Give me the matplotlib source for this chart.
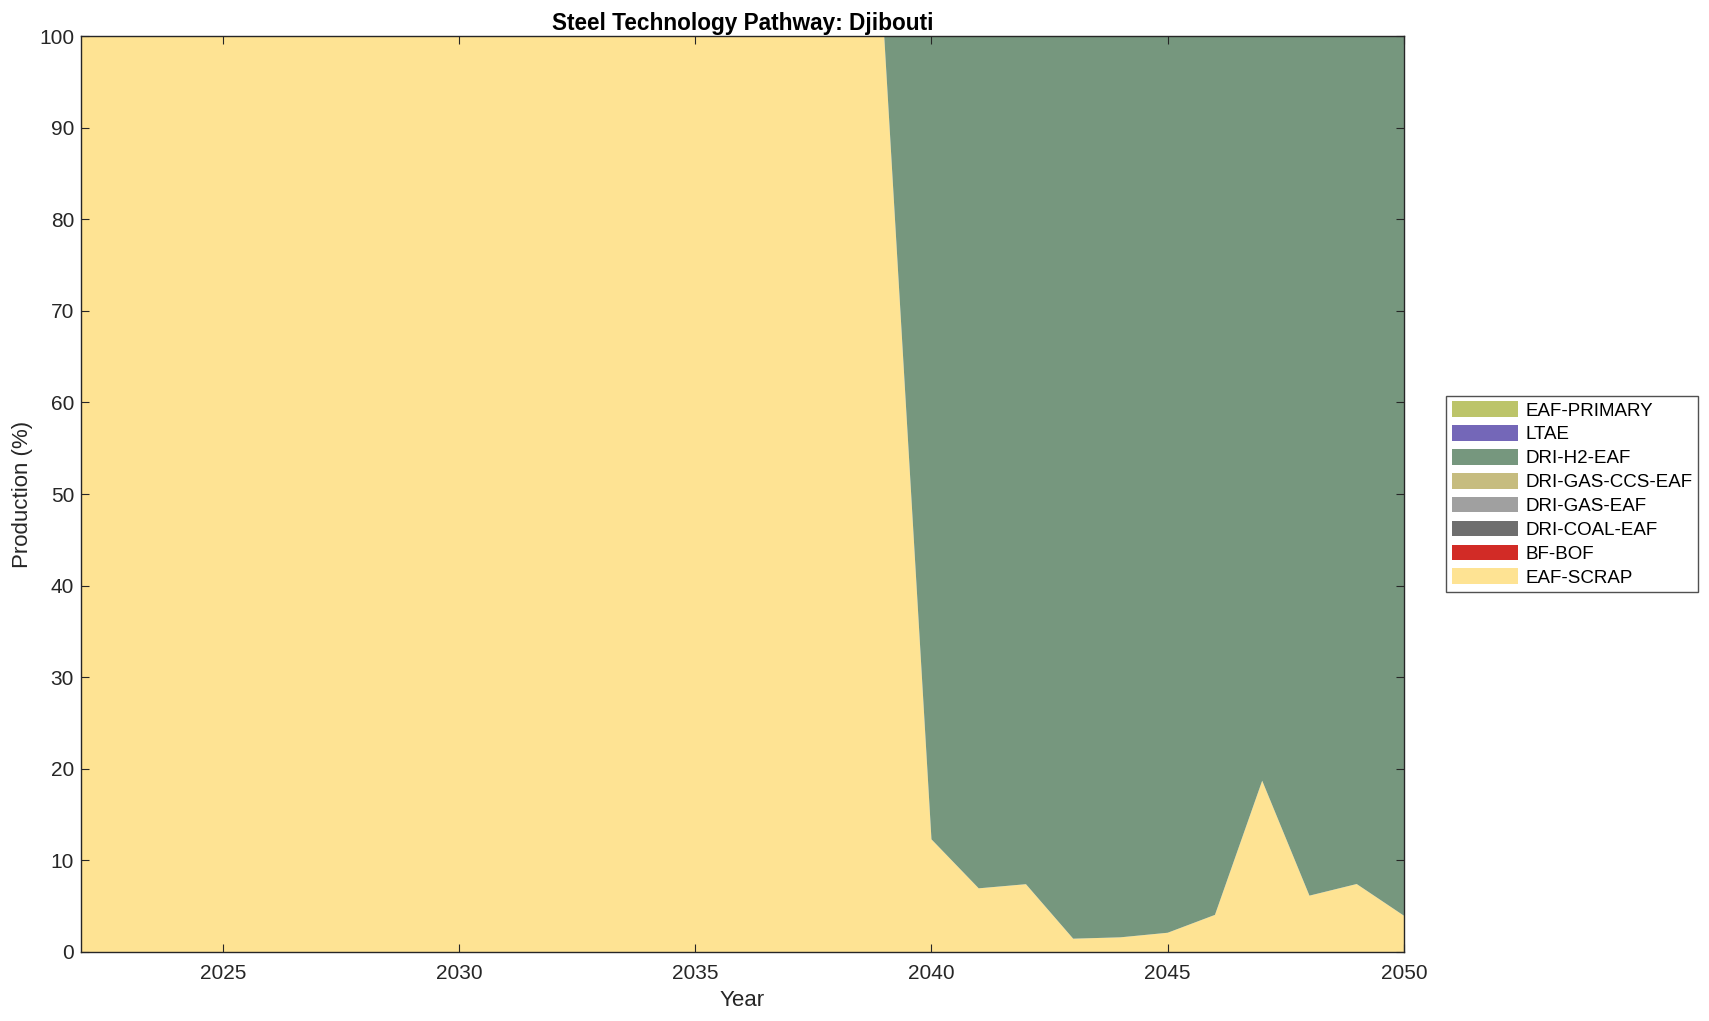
import numpy as np
import matplotlib
matplotlib.use("Agg")
import matplotlib.pyplot as plt

plt.rcParams["font.family"] = ["Liberation Sans", "DejaVu Sans"]

# ── data ──────────────────────────────────────────────────────────────────────
years = list(range(2022, 2051))
eaf_scrap = [100.0] * 18 + [12.3, 6.95, 7.4, 1.45, 1.6, 2.1, 4.05, 18.7, 6.15, 7.42, 3.96]
bf_bof = [0.0] * len(years)
dri_coal = [0.0] * len(years)
dri_gas = [0.0] * len(years)
dri_gas_ccs = [0.0] * len(years)
dri_h2 = [100.0 - v for v in eaf_scrap]
ltae = [0.0] * len(years)
eaf_primary = [0.0] * len(years)

tech_names = ["EAF-SCRAP", "BF-BOF", "DRI-COAL-EAF", "DRI-GAS-EAF",
              "DRI-GAS-CCS-EAF", "DRI-H2-EAF", "LTAE", "EAF-PRIMARY"]
tech_colors = ["#fee393", "#d22b26", "#6e6e6e", "#a0a0a0",
               "#c6bc7f", "#76977e", "#7467b8", "#bcc46a"]

series = [eaf_scrap, bf_bof, dri_coal, dri_gas, dri_gas_ccs, dri_h2, ltae, eaf_primary]

# ── plot ──────────────────────────────────────────────────────────────────────
fig = plt.figure(figsize=(17.09, 10.21), dpi=100)
ax = fig.add_axes([0.0474, 0.0676, 0.7741, 0.8971])

polys = ax.stackplot(years, *series, colors=tech_colors, labels=tech_names,
                     linewidth=0)

ax.set_xlim(2022, 2050)
ax.set_ylim(0, 100)
ax.set_xticks([2025, 2030, 2035, 2040, 2045, 2050])
ax.set_yticks(range(0, 101, 10))
ax.tick_params(direction="in", top=True, right=True, length=6,
               width=0.8, labelsize=15, colors="#262626")
ax.tick_params(axis="x", pad=9)
ax.tick_params(axis="y", pad=5)
for sp in ax.spines.values():
    sp.set_linewidth(1.0)
    sp.set_edgecolor("#262626")
ax.set_axisbelow(False)

ax.set_xlabel("Year", fontsize=16, color="#262626", labelpad=5)
ax.set_ylabel("Production (%)", fontsize=16, color="#262626", labelpad=4)
ax.set_title("Steel Technology Pathway: Djibouti", fontsize=16.3,
             fontweight="bold", pad=4)

handles, labels = ax.get_legend_handles_labels()
leg = ax.legend(handles[::-1], labels[::-1], loc="center left",
                bbox_to_anchor=(1.025, 0.5), fontsize=13.5, frameon=True,
                fancybox=False, edgecolor="#262626", handlelength=3.5,
                handleheight=0.9, labelspacing=0.3, handletextpad=0.4,
                borderpad=0.3)
leg.get_frame().set_linewidth(1.0)

fig.savefig("out.png", dpi=100)
